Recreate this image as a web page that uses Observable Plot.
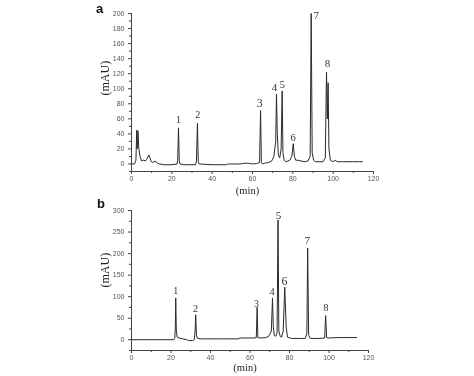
<!DOCTYPE html>
<html>
<head>
<meta charset="utf-8">
<script src="https://cdn.jsdelivr.net/npm/d3@7"></script>
<script src="https://cdn.jsdelivr.net/npm/@observablehq/plot@0.6"></script>
<style>
  html, body { margin: 0; padding: 0; background: #fff; }
  #wrap { position: relative; width: 474px; height: 376px; overflow: hidden; background: #fff; filter: grayscale(1); }
  #wrap svg { position: absolute; left: 0; }
  .panel { position: absolute; font-family: "Liberation Sans", Arial, sans-serif; font-weight: bold; font-size: 13px; color: #111; }
</style>
</head>
<body>
<div id="wrap">
  <div class="panel" style="left:96px;top:1px;">a</div>
  <div class="panel" style="left:97px;top:196px;">b</div>
</div>
<script>
// ---------- Panel a : chromatogram ----------
const timesA = [0, 1.5, 2.2, 2.6, 2.9, 3.2, 3.6, 4.2, 5.0, 6.0, 7.0, 7.5, 8.6, 9.2, 9.8, 10.5, 11.8, 12.8, 14, 16, 20,
  22.6, 22.9, 23.3, 23.7, 24.1, 26, 31.8, 32.2, 32.7, 33.1, 33.6, 40, 47, 48, 54, 56, 58, 60, 62,
  63.5, 64.0, 64.4, 65.0, 66, 68, 69.5, 70.6, 71.5, 71.9, 72.3, 72.8, 73.5, 74.2, 74.7, 75.1, 75.7, 76.5, 77.5, 78.5,
  79.5, 80.2, 80.8, 81.4, 82.5, 84, 86, 87.5, 88.6, 89.1, 89.6, 90.3, 91.2, 93, 95,
  96.1, 96.7, 97.1, 97.5, 97.9, 98.6, 100, 101, 102, 105, 110, 113, 114.5];
const valuesA = [0, 0, 5, 45, 20, 44, 22, 10, 4, 5, 4, 6, 12, 8, 3, 2, 4, 1, 0, -1, -1,
  0, 5, 48, 3, 0, -1, -1, 4, 54, 3, 0, -1, -1, 0, 0, 1, 1, 0, 0.5,
  2, 71, 2, 0, 1, 2, 4, 10, 30, 93, 40, 12, 8, 20, 97, 15, 5, 3, 4, 5,
  10, 27, 10, 5, 5, 4, 3, 4, 10, 200, 15, 5, 3, 3, 3,
  8, 122, 60, 108, 20, 5, 3, 5, 3, 3, 3, 3, 3];
const peakNamesA = ["1", "2", "3", "4", "5", "6", "7", "8"];
const peakTimesA = [23.3, 32.9, 63.6, 70.9, 74.8, 80.1, 91.6, 97.2];
const peakLabelValuesA = [59, 65.6, 81.5, 102, 106, 35.5, 198, 133];
const peakSizesA = [10, 10, 12, 11, 10.5, 10.5, 11, 11];

// ---------- Panel b : chromatogram ----------
const timesB = [0, 21.5, 21.9, 22.2, 22.4, 22.7, 23.1, 24, 26, 28, 29, 31, 31.8, 32.2, 32.5, 32.9, 33.4, 35, 45, 54, 55, 62,
  63.2, 63.6, 64.0, 65, 68, 69.5, 70.8, 71.4, 71.8, 72.3, 73.0, 73.7, 74.2, 74.6, 75.3, 76, 76.8, 77.6, 78.3, 79, 81, 85, 88,
  88.8, 89.2, 89.7, 90.5, 95, 97.8, 98.3, 98.8, 99.5, 105, 114];
const valuesB = [0, 0, 3, 30, 97, 20, 6, 4, 2, 0, -2, -2, 0, 20, 58, 10, 3, 2, 2, 2, 4, 4,
  5, 75, 5, 4, 5, 8, 20, 97, 30, 10, 8, 15, 278, 20, 8, 6, 20, 122, 30, 6, 3, 3, 3,
  15, 213, 10, 3, 3, 4, 56, 5, 4, 5, 5];
const peakNamesB = ["1", "2", "3", "4", "5", "6", "7", "8"];
const peakTimesB = [22.4, 32.4, 63.3, 71.2, 74.4, 77.5, 89.0, 98.4];
const peakLabelValuesB = [114, 71, 84, 112, 288, 137, 230, 74];
const peakSizesB = [10, 10, 10, 10.5, 11, 12, 11, 10.5];

const yTicksA = [0, 20, 40, 60, 80, 100, 120, 140, 160, 180, 200];
const yMinorA = [-10, 10, 30, 50, 70, 90, 110, 130, 150, 170, 190];
const yTicksB = [0, 50, 100, 150, 200, 250, 300];
const yMinorB = [-25, 25, 75, 125, 175, 225, 275];
const xTicks = [0, 20, 40, 60, 80, 100, 120];
const xMinor = [10, 30, 50, 70, 90, 110];

const dataA = timesA.map((t, i) => ({t, v: valuesA[i]}));
const dataB = timesB.map((t, i) => ({t, v: valuesB[i]}));
const labelsA = peakNamesA.map((n, i) => ({n, t: peakTimesA[i], v: peakLabelValuesA[i], s: peakSizesA[i]}));
const labelsB = peakNamesB.map((n, i) => ({n, t: peakTimesB[i], v: peakLabelValuesB[i], s: peakSizesB[i]}));

const serif = "'Liberation Serif', 'Times New Roman', serif";
const axisColor = "#444";

function labelMarks(labels) {
  const sizes = Array.from(new Set(labels.map(d => d.s)));
  return sizes.map(s => Plot.text(labels.filter(d => d.s === s),
    {x: "t", y: "v", text: "n", fontSize: s, fontFamily: serif, fill: "#333"}));
}

function panel({data, labels, yDomain, yTicks, yMinor, height, mt, mb, mr, yLabelDy, xLabelDy}) {
  return Plot.plot({
    width: 474, height,
    marginLeft: 131, marginRight: mr, marginTop: mt, marginBottom: mb,
    x: {domain: [0, 120]},
    y: {domain: yDomain},
    style: {fontFamily: "'Liberation Sans', Arial, sans-serif", fontSize: "7px", color: "#555", background: "transparent"},
    marks: [
      Plot.ruleX([0], {y1: yDomain[0], y2: yDomain[1], stroke: axisColor, strokeWidth: 1}),
      Plot.ruleY([yDomain[0]], {x1: 0, x2: 120, stroke: axisColor, strokeWidth: 1}),
      Plot.axisY({ticks: yTicks, tickSize: 3, tickPadding: 4, label: null, stroke: axisColor}),
      Plot.axisY({ticks: yMinor, tickSize: 2, tickFormat: () => "", label: null, stroke: axisColor}),
      Plot.axisX({ticks: xTicks, tickSize: 3, tickPadding: 2, label: null, stroke: axisColor}),
      Plot.axisX({ticks: xMinor, tickSize: 2, tickFormat: () => "", label: null, stroke: axisColor}),
      Plot.line(data, {x: "t", y: "v", stroke: "#2a2a2a", strokeWidth: 1}),
      ...labelMarks(labels),
      Plot.text(["(mAU)"], {frameAnchor: "left", dx: -26, dy: yLabelDy, rotate: -90, fontFamily: serif, fontSize: 12, fill: "#222"}),
      Plot.text(["(min)"], {frameAnchor: "bottom", dx: -5, dy: xLabelDy, fontFamily: serif, fontSize: 10.5, fill: "#222"})
    ]
  });
}

const wrap = document.getElementById("wrap");
const a = panel({data: dataA, labels: labelsA, yDomain: [-10, 200], yTicks: yTicksA, yMinor: yMinorA,
  height: 200, mt: 13, mb: 29, mr: 101, yLabelDy: 3, xLabelDy: 22});
a.style.top = "0px";
wrap.appendChild(a);
const b = panel({data: dataB, labels: labelsB, yDomain: [-25, 300], yTicks: yTicksB, yMinor: yMinorB,
  height: 181, mt: 15, mb: 26, mr: 106, yLabelDy: 7, xLabelDy: 20});
b.style.top = "195px";
wrap.appendChild(b);
</script>
</body>
</html>
